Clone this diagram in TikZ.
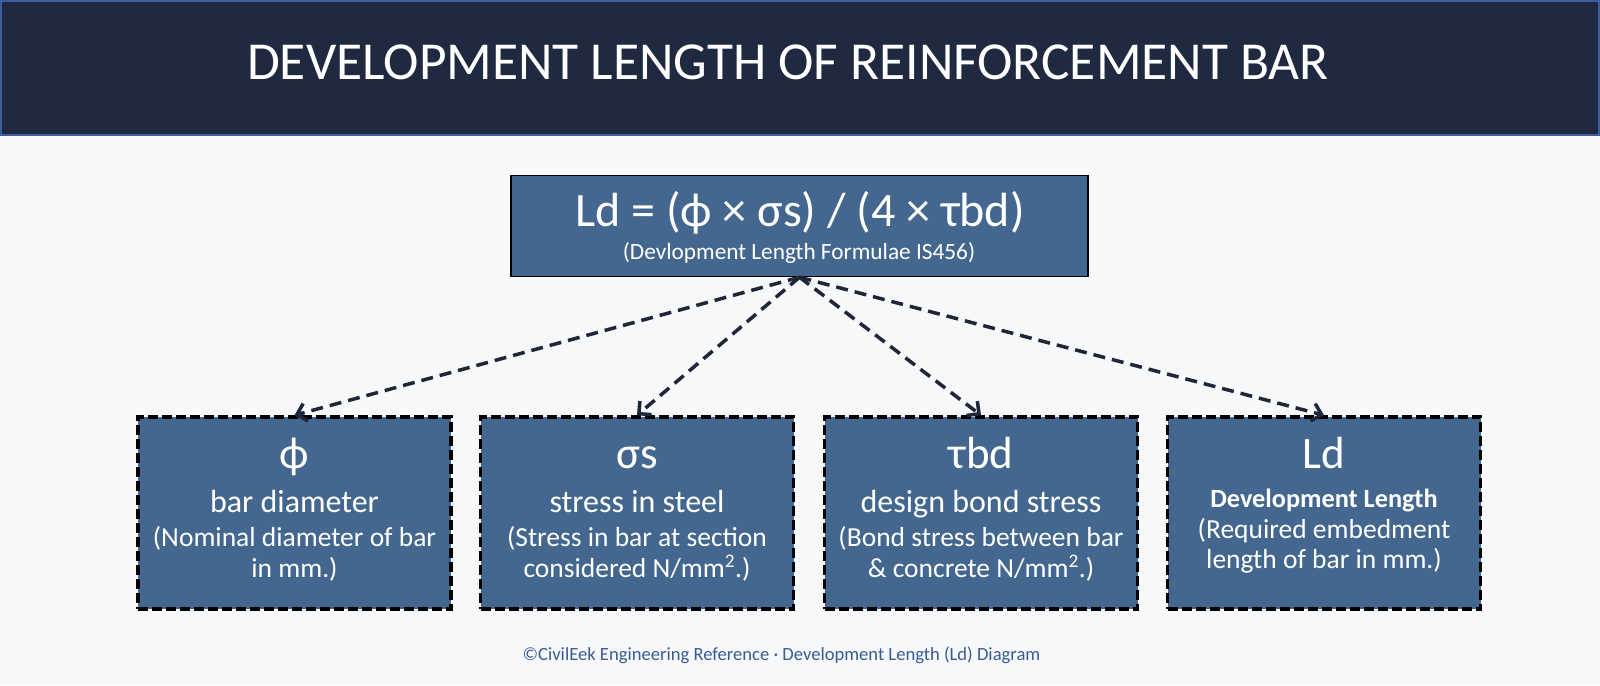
\documentclass[tikz,border=0pt]{standalone}
\usepackage{fontspec}
\setmainfont{Carlito}
\usetikzlibrary{arrows.meta}
\definecolor{bg}{HTML}{F7F8FA}
\definecolor{hdr}{HTML}{1F2940}
\definecolor{hdrline}{HTML}{3D5E9E}
\definecolor{boxfill}{HTML}{44678F}
\definecolor{arrowc}{HTML}{1E2638}
\definecolor{foot}{HTML}{3B5B94}
\begin{document}
\begin{tikzpicture}[x=1pt,y=-1pt,
  txt/.style={anchor=base, inner sep=0pt, text=white},
  titletxt/.style={txt, font=\fontsize{53.4}{60}\selectfont},
  formtxt/.style={txt, font=\fontsize{48}{56}\selectfont},
  subtxt/.style={txt, font=\fontsize{23.3}{28}\selectfont},
  symtxt/.style={txt, font=\fontsize{45}{50}\selectfont},
  headtxt/.style={txt, font=\fontsize{32}{38}\selectfont},
  boldtxt/.style={txt, font=\fontsize{26.3}{30}\selectfont\bfseries},
  desctxt/.style={txt, font=\fontsize{27.5}{31}\selectfont},
  foottxt/.style={anchor=base, inner sep=0pt, text=foot, font=\fontsize{18.6}{24}\selectfont},
  fbox/.style={draw=black, line width=1.5pt, fill=boxfill, minimum width=577pt, minimum height=101pt, inner sep=0pt},
  cbox/.style={draw=black, line width=3.5pt, dash pattern=on 10pt off 4pt, fill=boxfill, minimum width=313pt, minimum height=192pt, inner sep=0pt},
  conn/.style={draw=arrowc, line width=3.5pt, dash pattern=on 12pt off 7pt, -{Straight Barb[length=9pt,width=18pt,line width=3.5pt]}}
]
\useasboundingbox (0,0) rectangle (1600,685);
\fill[bg] (0,0) rectangle (1600,685);
\draw[hdrline, line width=2pt, fill=hdr] (1,1) rectangle (1599,135);
\node[titletxt] (title) at (788,79) {DEVELOPMENT LENGTH OF REINFORCEMENT BAR};

\node[fbox] (fbox) at (799.5,226) {};
\node[formtxt] (ftext) at (800,226) {Ld = (ϕ × σs) / (4 × τbd)};
\node[subtxt] (fsub) at (799,259) {(Devlopment Length Formulae IS456)};

\node[cbox] (b1) at (294.5,513) {};
\node[cbox] (b2) at (637,513) {};
\node[cbox] (b3) at (981,513) {};
\node[cbox] (b4) at (1324,513) {};

\draw[conn] (fbox.south) -- (b1.north);
\draw[conn] (fbox.south) -- (b2.north);
\draw[conn] (fbox.south) -- (b3.north);
\draw[conn] (fbox.south) -- (b4.north);

\node[symtxt] (b1s) at (294.5,468) {ϕ};
\node[headtxt] (b1h) at (294.5,512) {bar diameter};
\node[desctxt] (b1a) at (294.5,546) {(Nominal diameter of bar};
\node[desctxt] (b1b) at (294.5,577) {in mm.)};

\node[symtxt] (b2s) at (637,468) {σs};
\node[headtxt] (b2h) at (637,512) {stress in steel};
\node[desctxt] (b2a) at (637,546) {(Stress in bar at section};
\node[desctxt] (b2b) at (637,577) {considered N/mm\textsuperscript{2}.)};

\node[symtxt] (b3s) at (981,468) {τbd};
\node[headtxt] (b3h) at (981,512) {design bond stress};
\node[desctxt] (b3a) at (981,546) {(Bond stress between bar};
\node[desctxt] (b3b) at (981,577) {\& concrete N/mm\textsuperscript{2}.)};

\node[symtxt] (b4s) at (1324,468) {Ld};
\node[boldtxt] (b4h) at (1324,507) {Development Length};
\node[desctxt] (b4a) at (1324,538) {(Required embedment};
\node[desctxt] (b4b) at (1324,568) {length of bar in mm.)};

\node[foottxt] (foot) at (781.5,660) {©CivilEek Engineering Reference · Development Length (Ld) Diagram};
\end{tikzpicture}
\end{document}
